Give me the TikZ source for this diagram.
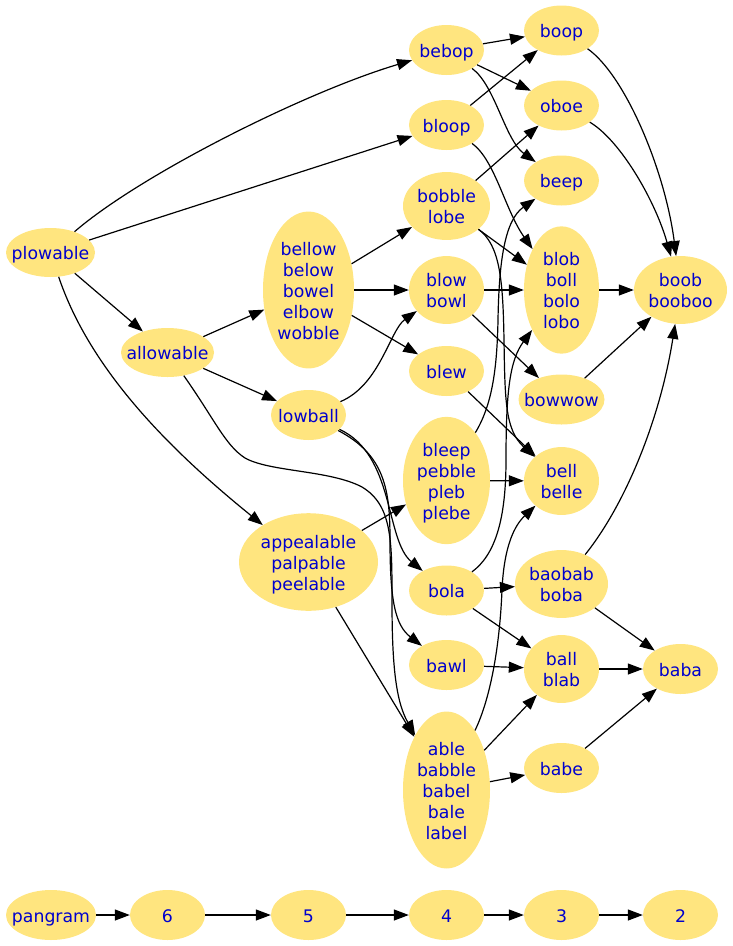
\documentclass[tikz,border=0pt]{standalone}
\usepackage{fontspec}
\setmainfont{DejaVu Sans}
\usetikzlibrary{shapes.geometric,arrows.meta}
\definecolor{nodefill}{HTML}{FFE57F}
\definecolor{nodetext}{HTML}{0000CD}
\newcommand{\wordlines}[1]{\makebox[0pt]{\begin{tabular}{@{}c@{}}\rule{0pt}{20.7pt}#1\end{tabular}}}
\begin{document}
\begin{tikzpicture}[x=1pt,y=-1pt,
  wnode/.style={ellipse,fill=nodefill,text=nodetext,inner sep=0pt,
    font=\fontsize{17.3}{21}\selectfont},
  wsmall/.style={wnode,minimum width=75pt,minimum height=50pt},
  edge/.style={-{Triangle[length=15pt,width=11pt]},line width=1.2pt,black}]
\useasboundingbox (0,0) rectangle (732,946);

% column 1
\node[wnode,minimum width=89pt,minimum height=49pt] (plowable) at (50.5,252.5) {\wordlines{plowable}};
\node[wnode,minimum width=90pt,minimum height=50pt] (pangram) at (51,915) {\wordlines{pangram}};
% column 2
\node[wnode,minimum width=93pt,minimum height=49pt] (allowable) at (167.5,352.5) {\wordlines{allowable}};
\node[wsmall] (n6) at (167.5,915) {\wordlines{6}};
% column 3
\node[wnode,minimum width=91pt,minimum height=148pt] (bellow) at (308.5,290) {\wordlines{bellow\\below\\bowel\\elbow\\wobble}};
\node[wsmall] (lowball) at (308.5,415) {\wordlines{lowball}};
\node[wnode,minimum width=139pt,minimum height=90pt] (appealable) at (308.5,562) {\wordlines{appealable\\palpable\\peelable}};
\node[wsmall] (n5) at (308.5,915) {\wordlines{5}};
% column 4
\node[wsmall] (bebop) at (446.5,50) {\wordlines{bebop}};
\node[wsmall] (bloop) at (446.5,125) {\wordlines{bloop}};
\node[wnode,minimum width=87pt,minimum height=60pt] (bobble) at (446.5,206) {\wordlines{bobble\\lobe}};
\node[wnode,minimum width=75pt,minimum height=60pt] (blow) at (446.5,290) {\wordlines{blow\\bowl}};
\node[wsmall] (blew) at (446.5,371) {\wordlines{blew}};
\node[wnode,minimum width=87pt,minimum height=118pt] (bleep) at (446.5,480.5) {\wordlines{bleep\\pebble\\pleb\\plebe}};
\node[wsmall] (bola) at (446.5,590.5) {\wordlines{bola}};
\node[wsmall] (bawl) at (446.5,665) {\wordlines{bawl}};
\node[wnode,minimum width=87pt,minimum height=148pt] (able) at (446.5,790) {\wordlines{able\\babble\\babel\\bale\\label}};
\node[wsmall] (n4) at (446.5,915) {\wordlines{4}};
% column 5
\node[wsmall] (boop) at (561.5,30.5) {\wordlines{boop}};
\node[wsmall] (oboe) at (561.5,105.5) {\wordlines{oboe}};
\node[wsmall] (beep) at (561.5,180.5) {\wordlines{beep}};
\node[wnode,minimum width=75pt,minimum height=118pt] (blob) at (561.5,290) {\wordlines{blob\\boll\\bolo\\lobo}};
\node[wnode,minimum width=86pt,minimum height=50pt] (bowwow) at (561.5,399.5) {\wordlines{bowwow}};
\node[wnode,minimum width=75pt,minimum height=60pt] (bell) at (561.5,481) {\wordlines{bell\\belle}};
\node[wnode,minimum width=93pt,minimum height=60pt] (baobab) at (561.5,584) {\wordlines{baobab\\boba}};
\node[wnode,minimum width=75pt,minimum height=60pt] (ball) at (561.5,669) {\wordlines{ball\\blab}};
\node[wsmall] (babe) at (561.5,768) {\wordlines{babe}};
\node[wsmall] (n3) at (561.5,915) {\wordlines{3}};
% column 6
\node[wnode,minimum width=93pt,minimum height=60pt] (boob) at (680.5,290) {\wordlines{boob\\booboo}};
\node[wsmall] (baba) at (680.5,669) {\wordlines{baba}};
\node[wsmall] (n2) at (680.5,915) {\wordlines{2}};

% edges
\draw[edge] (plowable) .. controls (140,175) and (305,92) .. (bebop);
\draw[edge] (plowable) -- (bloop);
\draw[edge] (plowable) -- (allowable);
\draw[edge] (plowable) .. controls (90,370) and (170,450) .. (appealable);

\draw[edge] (allowable) -- (bellow);
\draw[edge] (allowable) -- (lowball);
\draw[edge] (allowable) .. controls (215,420) and (225,445) .. (245,458)
  .. controls (270,472) and (330,470) .. (362,487)
  .. controls (392,505) and (392,540) .. (392,600)
  .. controls (392,660) and (395,700) .. (able);

\draw[edge] (lowball) .. controls (380,385) and (390,330) .. (blow);
\draw[edge] (lowball) .. controls (395,455) and (385,540) .. (bola);
\draw[edge] (lowball) .. controls (385,455) and (390,490) .. (390,540)
  .. controls (390,600) and (395,625) .. (bawl);

\draw[edge] (bellow) -- (bobble);
\draw[edge] (bellow) -- (blow);
\draw[edge] (bellow) -- (blew);

\draw[edge] (appealable) -- (bleep);
\draw[edge] (appealable) -- (able);

\draw[edge] (bebop) -- (boop);
\draw[edge] (bebop) -- (oboe);
\draw[edge] (bebop) .. controls (495,85) and (505,140) .. (beep);

\draw[edge] (bloop) -- (boop);
\draw[edge] (bloop) .. controls (495,160) and (505,210) .. (blob);

\draw[edge] (bobble) -- (oboe);
\draw[edge] (bobble) -- (blob);
\draw[edge] (bobble) .. controls (500,245) and (503,280) .. (504,340)
  .. controls (505,400) and (505,430) .. (bell);

\draw[edge] (blow) -- (blob);
\draw[edge] (blow) -- (bowwow);
\draw[edge] (blew) -- (bell);

\draw[edge] (bleep) -- (bell);
\draw[edge] (bleep) .. controls (492,405) and (497,370) .. (498,320)
  .. controls (499,260) and (505,220) .. (beep);

\draw[edge] (bola) .. controls (495,555) and (506,520) .. (506,460)
  .. controls (506,390) and (510,360) .. (blob);
\draw[edge] (bola) -- (baobab);
\draw[edge] (bola) -- (ball);
\draw[edge] (bawl) -- (ball);

\draw[edge] (able) .. controls (492,695) and (500,640) .. (502,590)
  .. controls (504,545) and (515,525) .. (bell);
\draw[edge] (able) -- (ball);
\draw[edge] (able) -- (babe);

\draw[edge] (boop) .. controls (625,75) and (665,170) .. (boob);
\draw[edge] (oboe) .. controls (620,140) and (655,200) .. (boob);
\draw[edge] (blob) -- (boob);
\draw[edge] (bowwow) -- (boob);
\draw[edge] (baobab) .. controls (625,505) and (660,420) .. (boob);
\draw[edge] (baobab) -- (baba);
\draw[edge] (ball) -- (baba);
\draw[edge] (babe) -- (baba);

\draw[edge] (pangram) -- (n6);
\draw[edge] (n6) -- (n5);
\draw[edge] (n5) -- (n4);
\draw[edge] (n4) -- (n3);
\draw[edge] (n3) -- (n2);
\end{tikzpicture}
\end{document}
